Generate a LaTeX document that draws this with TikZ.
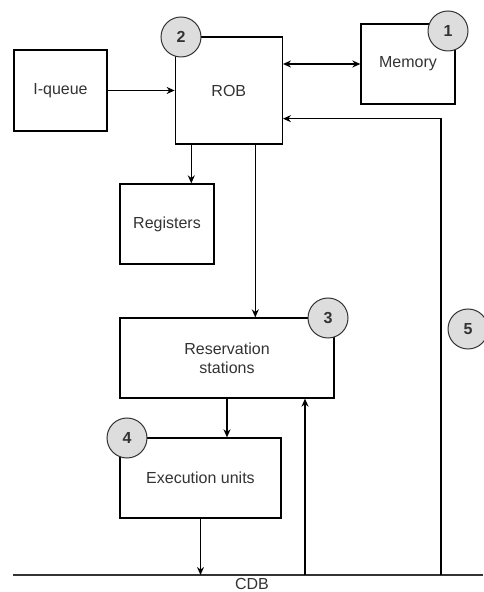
\documentclass[tikz,border=0pt]{standalone}
\usepackage{fontspec}
\setmainfont{Liberation Sans}
\usepackage{tikz}
\usetikzlibrary{positioning}
\usetikzlibrary{arrows.meta}
\definecolor{badgegray}{RGB}{221,221,221}
\definecolor{textgray}{RGB}{51,51,51}
\tikzset{unit box/.style={rectangle,draw,fill=white,line width=1.3pt,inner sep=0pt,text=textgray,font=\fontsize{16}{19}\selectfont},
badge/.style={circle,draw=textgray,fill=badgegray,line width=1pt,minimum size=40pt,inner sep=0pt,text=textgray,font=\bfseries\fontsize{16}{19}\selectfont},}

\begin{document}
\begin{tikzpicture}[->, >={Stealth[length=8pt,width=7pt]}, x=1pt, y=1pt, line width=1.3pt]
	\useasboundingbox (0,0) rectangle (483,592);
	\node[unit box, minimum width=93pt, minimum height=81pt] (iqueue) at (60.5,501.5) {I-queue};
	\node[unit box, minimum width=107pt, minimum height=107pt] (rob) [right=67pt of iqueue] {ROB};
	\node[unit box, minimum width=94pt, minimum height=80pt] (memory) at (408,528) {Memory};
	\node[unit box, minimum width=94pt, minimum height=80pt] (registers) at (167,368) {Registers};
	\node[unit box, minimum width=214pt, minimum height=80pt, align=center] (res) at (227,234) {Reservation\\stations};
	\node[unit box, minimum width=161pt, minimum height=80pt] (exec) at (200.5,114) {Execution units};

	% common data bus
	\coordinate (cdb west) at (13,17);
	\coordinate (cdb east) at (483,17);
	\draw[-, draw=textgray] (cdb west) -- (cdb east);
	\node[text=textgray, inner sep=0pt, font=\fontsize{16}{19}\selectfont] (cdb) at (252,8.5) {CDB};
	\coordinate (bus in) at (305,17);
	\coordinate (bus back) at (441,17);

	\draw (iqueue) -- (rob);
	\draw[<->] (memory.west) -- (memory.west -| rob.east);
	\draw ([xshift=-37.5pt]rob.south) -- ([xshift=-37.5pt]rob.south |- registers.north);
	\draw ([xshift=26.5pt]rob.south) -- ([xshift=26.5pt]rob.south |- res.north);
	\draw (res.south) -- (res.south |- exec.north);
	\draw (exec.south) -- (exec.south |- cdb west);
	\draw (bus in) -- (bus in |- res.south);
	\draw (bus back) |- ([yshift=26pt]rob.south east);

	\node[badge] (b1) at (448,561) {1};
	\node[badge] (b2) at (181,555) {2};
	\node[badge] (b3) at (328,274) {3};
	\node[badge] (b4) at (127,154) {4};
	\node[badge] (b5) at (468,263) {5};
\end{tikzpicture}
\end{document}
